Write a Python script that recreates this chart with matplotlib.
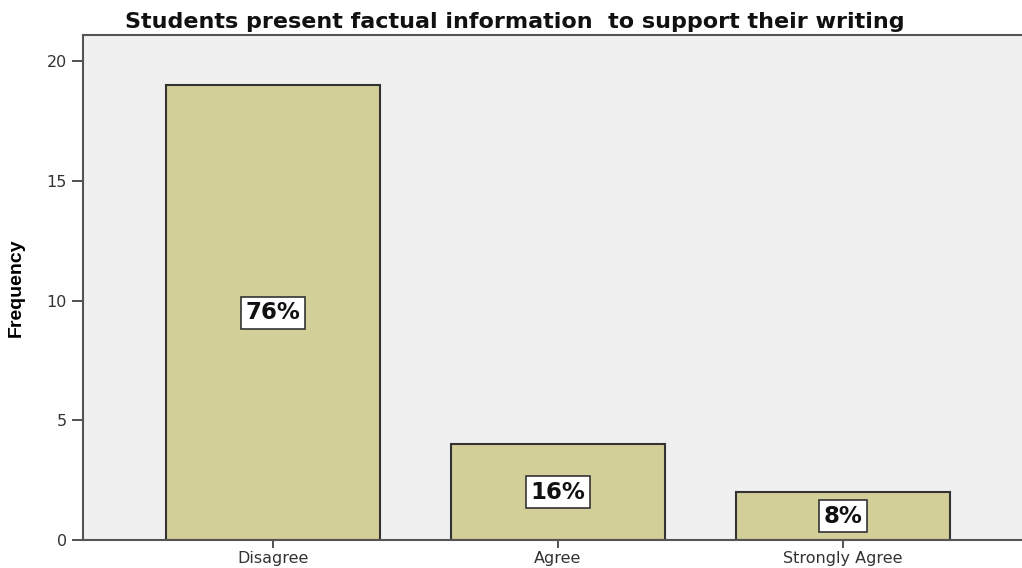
import matplotlib
matplotlib.use("Agg")
import matplotlib.pyplot as plt

categories = ["Disagree", "Agree", "Strongly Agree"]
frequency = [19, 4, 2]
percent_labels = ["76%", "16%", "8%"]

plt.rcParams['font.family'] = ['DejaVu Sans']

fig = plt.figure(figsize=(10.22, 5.68), dpi=100)
ax = fig.add_axes([83 / 1022, 28 / 568, 945 / 1022, 505 / 568])

x = list(range(len(categories)))
ax.bar(x, frequency, width=0.75, color='#d3cf98', edgecolor='#333333', linewidth=1.5, zorder=2)

for xi, f, lab in zip(x, frequency, percent_labels):
    ax.text(xi, f / 2, lab, ha='center', va='center', fontsize=16.5, fontweight='bold',
            color='#111111',
            bbox=dict(boxstyle='square,pad=0.2', fc='white', ec='#333333', lw=1.2), zorder=3)

ax.set_facecolor('#f0f0f0')
ax.set_xlim(-0.667, 2.65)
ax.set_ylim(0, 21.1)
ax.set_yticks([0, 5, 10, 15, 20])
ax.set_xticks(x)
ax.set_xticklabels(categories, fontsize=11.5)
ax.tick_params(axis='y', labelsize=11.5, length=8, width=1.2, colors='#333333', labelcolor='#333333')
ax.tick_params(axis='x', length=6, width=1.2, colors='#333333', labelcolor='#333333', pad=2)

for side in ['left', 'bottom', 'top']:
    ax.spines[side].set_color('#555555')
    ax.spines[side].set_linewidth(1.5)
ax.spines['right'].set_visible(False)

ax.set_ylabel('Frequency', fontsize=14, fontweight='bold', labelpad=16,
              family=['Liberation Sans Narrow', 'Liberation Sans', 'DejaVu Sans'])
ax.set_title('Students present factual information  to support their writing',
             fontsize=16, fontweight='bold', pad=5, x=(515 - 83) / 945, color='#111111')

fig.savefig('out.png', dpi=100)
